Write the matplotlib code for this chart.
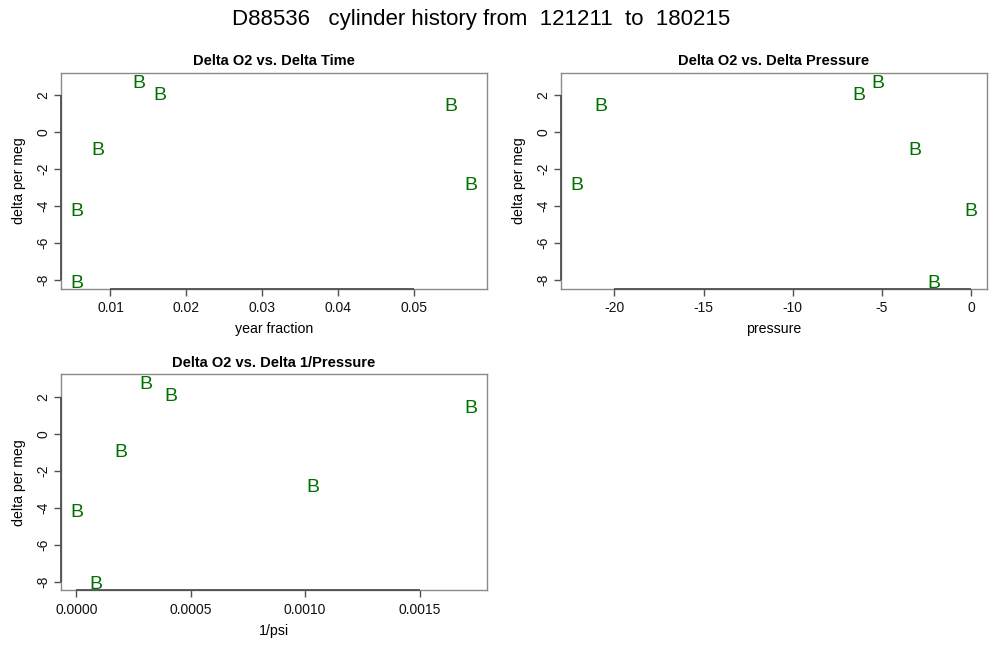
import matplotlib
matplotlib.use("Agg")
import matplotlib.pyplot as plt
import matplotlib.transforms as mtransforms
import numpy as np

plt.rcParams['font.family'] = ['Liberation Sans', 'DejaVu Sans']

# data
delta_o2 = [2.79, 2.14, 1.51, -0.85, -2.77, -4.13, -8.04]
year_fraction = [0.01374, 0.01646, 0.05484, 0.00829, 0.05756, 0.00552, 0.00552]
pressure = [-5.24, -6.31, -20.77, -3.17, -22.13, 0.0, -2.11]
inv_psi = [0.000302, 0.000411, 0.001726, 0.000192, 0.001035, 0.0, 0.0000831]

time_ticks = [0.01, 0.02, 0.03, 0.04, 0.05]
pressure_ticks = [-20, -15, -10, -5, 0]
invp_ticks = [0.0, 0.0005, 0.0010, 0.0015]
invp_labels = ["0.0000", "0.0005", "0.0010", "0.0015"]
y_ticks = [-8, -6, -4, -2, 0, 2]

suptitle = "D88536   cylinder history from  121211  to  180215"

W, H = 1000, 670
fig = plt.figure(figsize=(W / 100, H / 100), dpi=100)

def frac_rect(x0, y0, x1, y1):
    return [x0 / W, 1 - y1 / H, (x1 - x0) / W, (y1 - y0) / H]

GREEN = '#007000'
BOX = '#8a8a8a'
AX = '#505050'
BFS = 14

def rlim(v):
    lo, hi = min(v), max(v)
    d = hi - lo
    return lo - 0.04 * d, hi + 0.04 * d

def panel(rect, x, y, xticks, xlabels, title, xlabel):
    ax = fig.add_axes(rect)
    ax.set_xlim(*rlim(x))
    ax.set_ylim(*rlim(y))
    tr = mtransforms.offset_copy(ax.transData, fig=fig, x=0,
                                 y=-0.729 * BFS / 2, units='points')
    for xi, yi in zip(x, y):
        ax.text(xi, yi, 'B', color=GREEN, fontsize=BFS, ha='center',
                va='baseline', transform=tr)
    for s in ax.spines.values():
        s.set_color(BOX)
        s.set_linewidth(1.0)
    ax.set_xticks(xticks)
    ax.set_xticklabels(xlabels if xlabels else [str(t) for t in xticks])
    ax.set_yticks(y_ticks)
    ax.set_yticklabels([str(t) for t in y_ticks], rotation=90, va='center')
    ax.tick_params(axis='both', length=5, width=1.0, color=AX, labelsize=10,
                   labelcolor='#111111')
    ax.tick_params(axis='x', pad=4)
    ax.tick_params(axis='y', pad=2.6)
    # R-style axis lines spanning ticks
    ylo = ax.get_ylim()[0]
    xlo = ax.get_xlim()[0]
    ax.plot([xticks[0], xticks[-1]], [ylo, ylo], color=AX, lw=1.3,
            clip_on=False, solid_capstyle='butt', zorder=5)
    ax.plot([xlo, xlo], [y_ticks[0], y_ticks[-1]], color=AX, lw=1.3,
            clip_on=False, solid_capstyle='butt', zorder=5)
    ax.set_title(title, fontsize=10.5, fontweight='bold', y=1 + 11.7 / 216,
                 va='center', pad=0)
    ax.set_xlabel(xlabel, fontsize=10.2, va='center')
    ax.xaxis.set_label_coords(0.5, -40.5 / 216)
    ax.set_ylabel('delta per meg', fontsize=10.2, va='center')
    ax.yaxis.set_label_coords(-(60.7 - 19) / 426.3, 0.5)
    return ax

panel(frac_rect(60.7, 72.7, 487, 288.7), year_fraction, delta_o2, time_ticks,
      None, 'Delta O2 vs. Delta Time', 'year fraction')
panel(frac_rect(560.7, 72.7, 987, 288.7), pressure, delta_o2, pressure_ticks,
      None, 'Delta O2 vs. Delta Pressure', 'pressure')
panel(frac_rect(60.7, 374.3, 487, 590.3), inv_psi, delta_o2, invp_ticks,
      invp_labels, 'Delta O2 vs. Delta 1/Pressure', '1/psi')

fig.text(481 / W, 1 - 20 / H, suptitle, fontsize=16, ha='center', va='center')

fig.savefig('out.png', dpi=100)
